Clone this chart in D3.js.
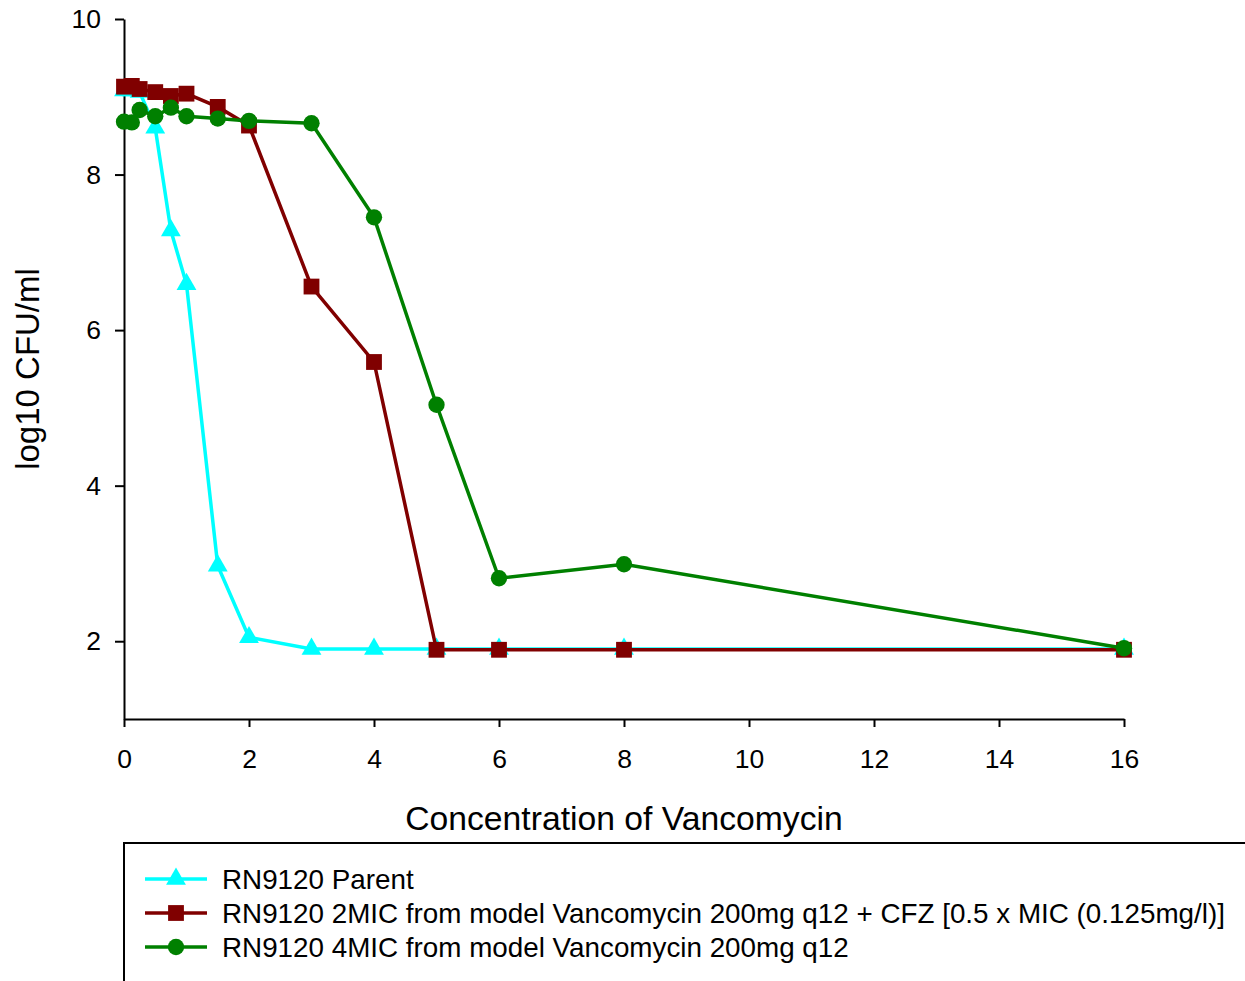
<!DOCTYPE html>
<html>
<head>
<meta charset="utf-8">
<script src="https://cdn.jsdelivr.net/npm/d3@7"></script>
<style>
  body { margin: 0; background: #fff; }
  svg { display: block; font-family: "Liberation Sans", Arial, sans-serif; }
</style>
</head>
<body>
<svg id="chart" width="1245" height="981"></svg>
<script>
// concentrations (x) shared by all three series
var concentrations = [0, 0.125, 0.25, 0.5, 0.75, 1, 1.5, 2, 3, 4, 5, 6, 8, 16];

var parentValues = [9.08, 9.08, 9.06, 8.6, 7.28, 6.59, 2.97, 2.05, 1.9, 1.9, 1.9, 1.9, 1.9, 1.9];
var cfzValues    = [9.13, 9.14, 9.1, 9.06, 9.01, 9.04, 8.87, 8.63, 6.56, 5.59, 1.89, 1.89, 1.89, 1.89];
var mic4Values   = [8.68, 8.67, 8.83, 8.75, 8.86, 8.75, 8.72, 8.69, 8.66, 7.45, 5.04, 2.81, 2.99, 1.91];

var seriesNames = [
  "RN9120 Parent",
  "RN9120 2MIC from model Vancomycin 200mg q12 + CFZ [0.5 x MIC (0.125mg/l)]",
  "RN9120 4MIC from model Vancomycin 200mg q12"
];
var seriesColors = ["#00ffff", "#800000", "#008000"];
var seriesShapes = [d3.symbolTriangle, d3.symbolSquare, d3.symbolCircle];

var xTicks = [0, 2, 4, 6, 8, 10, 12, 14, 16];
var yTicks = [2, 4, 6, 8, 10];

var allSeries = [parentValues, cfzValues, mic4Values].map((vals, i) => ({
  name: seriesNames[i],
  color: seriesColors[i],
  shape: seriesShapes[i],
  points: vals.map((v, j) => ({ x: concentrations[j], y: v }))
}));

function symbolSize(shape) {
  if (shape === d3.symbolTriangle) return 170;
  if (shape === d3.symbolSquare) return 250;
  return 210;
}

var svg = d3.select("#chart");

var xScale = d3.scaleLinear().domain([0, 16]).range([124, 1124]);
var yScale = d3.scaleLinear().domain([1, 10]).range([719, 19]);

// axes
svg.append("g")
  .attr("transform", "translate(0,719)")
  .call(d3.axisBottom(xScale).tickValues(xTicks).tickSize(8).tickSizeOuter(0).tickPadding(22))
  .call(g => g.selectAll("text").style("font-size", "26.5px").style("font-family", "Liberation Sans, Arial, sans-serif").attr("fill", "#000"))
  .call(g => g.selectAll("line,path").attr("stroke", "#000").attr("stroke-width", 2));

svg.append("g")
  .attr("transform", "translate(124,0)")
  .call(d3.axisLeft(yScale).tickValues(yTicks).tickSize(9).tickSizeOuter(0).tickPadding(14))
  .call(g => g.selectAll("text").style("font-size", "26.5px").style("font-family", "Liberation Sans, Arial, sans-serif").attr("fill", "#000"))
  .call(g => g.selectAll("line,path").attr("stroke", "#000").attr("stroke-width", 2));

// axis titles
svg.append("text")
  .attr("x", 624).attr("y", 830)
  .attr("text-anchor", "middle")
  .style("font-size", "33.7px")
  .text("Concentration of Vancomycin");

svg.append("text")
  .attr("transform", "translate(39,369) rotate(-90)")
  .attr("text-anchor", "middle")
  .style("font-size", "33px")
  .text("log10 CFU/ml");

var line = d3.line().x(d => xScale(d.x)).y(d => yScale(d.y));

var seriesG = svg.selectAll(".series")
  .data(allSeries)
  .join("g")
  .attr("class", "series");

seriesG.append("path")
  .attr("d", d => line(d.points))
  .attr("fill", "none")
  .attr("stroke", d => d.color)
  .attr("stroke-width", 3.5);

seriesG.each(function (s) {
  d3.select(this).selectAll(".marker")
    .data(s.points)
    .join("path")
    .attr("class", "marker")
    .attr("transform", d => "translate(" + xScale(d.x) + "," + yScale(d.y) + ")")
    .attr("d", d3.symbol().type(s.shape).size(symbolSize(s.shape)))
    .attr("fill", s.color);
});

// legend
var legend = svg.append("g");
legend.append("rect")
  .attr("x", 124).attr("y", 843)
  .attr("width", 1200).attr("height", 200)
  .attr("fill", "none")
  .attr("stroke", "#000")
  .attr("stroke-width", 2);

var legendItems = legend.selectAll(".legend-item")
  .data(allSeries)
  .join("g")
  .attr("class", "legend-item")
  .attr("transform", (d, i) => "translate(0," + (879 + i * 34) + ")");

legendItems.append("line")
  .attr("x1", 145).attr("x2", 207)
  .attr("stroke", d => d.color)
  .attr("stroke-width", 3.5);

legendItems.append("path")
  .attr("transform", "translate(176,0)")
  .attr("d", d => d3.symbol().type(d.shape).size(symbolSize(d.shape))())
  .attr("fill", d => d.color);

legendItems.append("text")
  .attr("x", 222).attr("y", 10)
  .style("font-size", "27.8px")
  .text(d => d.name);
</script>
</body>
</html>
